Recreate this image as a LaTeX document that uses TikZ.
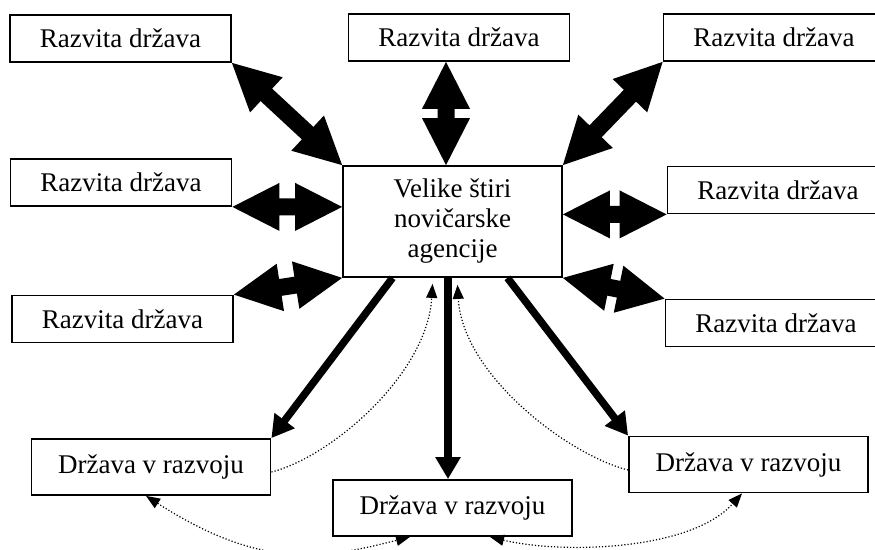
\documentclass[tikz,border=0pt]{standalone}
\usepackage{fontspec}
\setmainfont{Liberation Serif}
\usepackage{tikz}
\usetikzlibrary{arrows.meta,calc}

% double block arrow from #1 to #2
\newcommand{\blok}[2]{%
  \fill ($(#1)$)
     -- ($(#1)!47pt!(#2)!24pt!90:(#2)$)
     -- ($(#1)!47pt!(#2)!8.5pt!90:(#2)$)
     -- ($(#2)!47pt!(#1)!8.5pt!-90:(#1)$)
     -- ($(#2)!47pt!(#1)!24pt!-90:(#1)$)
     -- ($(#2)$)
     -- ($(#2)!47pt!(#1)!24pt!90:(#1)$)
     -- ($(#2)!47pt!(#1)!8.5pt!90:(#1)$)
     -- ($(#1)!47pt!(#2)!8.5pt!-90:(#2)$)
     -- ($(#1)!47pt!(#2)!24pt!-90:(#2)$)
     -- cycle;}

\begin{document}
\begin{tikzpicture}[x=1pt,y=-1pt,>={Triangle[length=14pt,width=11pt]},
                    box/.style={draw,line width=1.8pt,inner sep=0pt,
                                font=\fontsize{27}{30}\selectfont},
                    drzava/.style={box,minimum width=221pt,minimum height=47pt},
                    razvoj/.style={box,minimum width=239pt,minimum height=56pt},
                    agencija/.style={box,align=center,minimum width=219pt,minimum height=111pt},
                    tok/.style={line width=7.5pt,-{Triangle[length=22pt,width=24pt]}},
                    povratno/.style={dotted,line width=1.2pt}]
  \useasboundingbox (0,0) rectangle (875,549);
  \clip (0,0) rectangle (875,549);

  \node[agencija] (A)  at (452.5,221.5) {Velike štiri\\novičarske\\agencije};
  \node[drzava]   (R1) at (120.5,38.5)  {Razvita država};
  \node[drzava]   (R2) at (459,37.5)    {Razvita država};
  \node[drzava]   (R3) at (774,37.5)    {Razvita država};
  \node[drzava]   (R4) at (121,182.5)   {Razvita država};
  \node[drzava]   (R5) at (778,190)     {Razvita država};
  \node[drzava]   (R6) at (122.5,319)   {Razvita država};
  \node[drzava]   (R7) at (776,323)     {Razvita država};
  \node[razvoj]   (D1) at (151,467)     {Država v razvoju};
  \node[razvoj]   (D2) at (452.5,508)   {Država v razvoju};
  \node[razvoj]   (D3) at (748.5,464.5) {Država v razvoju};

  \coordinate (v)  at ([xshift=-6.5pt]A.north);
  \coordinate (v0) at (v |- R2.south);
  \coordinate (l)  at (R4.south east -| A.west);
  \coordinate (d)  at (R5.south west -| A.east);

  \blok{R1.south east}{A.north west}
  \blok{v0}{v}
  \blok{R3.south west}{A.north east}
  \blok{R4.south east}{l}
  \blok{d}{R5.south west}
  \blok{R6.north east}{A.south west}
  \blok{R7.north west}{A.south east}

  \draw[tok] ([xshift=-60pt]A.south)  -- (D1.north east);
  \draw[tok] ([xshift=-4.5pt]A.south) -- ([xshift=-4.5pt]D2.north);
  \draw[tok] ([xshift=55pt]A.south)   -- (D3.north west);

  \draw[povratno,->] ([yshift=-5pt]D1.east)
        .. controls +(60,-15) and +(-5,90) .. ([xshift=-20pt,yshift=-6pt]A.south);
  \draw[povratno,->] ([yshift=-5.5pt]D3.west)
        .. controls +(-60,-15) and +(5,90) .. ([xshift=5pt,yshift=-7pt]A.south);
  \draw[povratno,<->] ([xshift=-5pt]D1.south)
        .. controls +(114,73) and +(-90,23) .. ([xshift=-42.5pt]D2.south);
  \draw[povratno,<->] ([xshift=37.5pt]D2.south)
        .. controls +(70,17) and +(-52,58) .. ([xshift=-6.5pt]D3.south);
\end{tikzpicture}
\end{document}
